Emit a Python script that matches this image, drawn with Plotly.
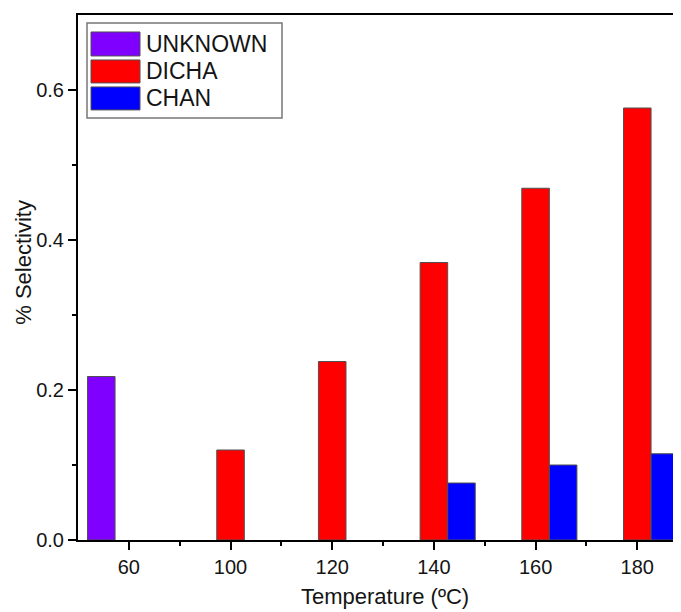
import plotly.graph_objects as go

# ---- data ----
categories = ["60", "100", "120", "140", "160", "180"]
series_names = ["UNKNOWN", "DICHA", "CHAN"]
unknown_vals = [0.218, None, None, None, None, None]
dicha_vals = [None, 0.12, 0.238, 0.37, 0.469, 0.576]
chan_vals = [None, None, None, 0.076, 0.10, 0.115]
series_colors = ["#7F00FF", "#FF0000", "#0000FF"]
y_tick_vals = [0.0, 0.2, 0.4, 0.6]
y_minor_vals = [0.1, 0.3, 0.5]

series_values = [unknown_vals, dicha_vals, chan_vals]
positions = list(range(len(categories)))

# the page body has an 8px margin; compensate so the picture lines up with the window
OFF = 8
W, H = 681 - OFF, 612 - OFF
PLOT_BOTTOM = 540.5  # window pixel of the x axis
ML, MR, MT = 78 - OFF, 0, 15 - OFF
MB = (H + OFF) - PLOT_BOTTOM
PW, PH = W - ML - MR, H - MT - MB

def px(x):  # window pixel -> paper
    return (x - OFF - ML) / PW

def py(y):
    return (H - MB - (y - OFF)) / PH

FONT = "Liberation Sans, Arial, sans-serif"
TXT = "#141414"

fig = go.Figure()
for name, vals, col in zip(series_names, series_values, series_colors):
    fig.add_trace(go.Bar(
        x=positions, y=vals, name=name,
        marker=dict(color=col, line=dict(color="#505050", width=1)),
        showlegend=False,
    ))

fig.update_layout(
    width=W, height=H,
    margin=dict(l=ML, r=MR, t=MT, b=MB, autoexpand=False),
    paper_bgcolor="white", plot_bgcolor="white",
    barmode="group", bargap=0.187, bargroupgap=0,
    font=dict(family=FONT, color=TXT, size=20),
)

fig.update_xaxes(
    range=[-0.5, 5.43],
    tickmode="array", tickvals=positions, ticktext=categories,
    ticks="outside", ticklen=8, tickwidth=2, tickcolor="black",
    minor=dict(tickmode="array",
               tickvals=[p + 0.5 for p in positions[:-1]],
               ticks="outside", ticklen=4, tickwidth=2, tickcolor="black"),
    showline=True, linecolor="black", linewidth=2, mirror=True,
    showgrid=False, zeroline=False,
    tickfont=dict(size=20, family=FONT, color=TXT),
)
fig.update_yaxes(
    range=[0, 0.7],
    tickmode="array", tickvals=y_tick_vals, tickformat=".1f",
    ticks="outside", ticklen=8, tickwidth=2, tickcolor="black",
    minor=dict(tickmode="array", tickvals=y_minor_vals,
               ticks="outside", ticklen=4, tickwidth=2, tickcolor="black"),
    showline=True, linecolor="black", linewidth=2,
    showgrid=False, zeroline=False,
    tickfont=dict(size=20, family=FONT, color=TXT),
)

# ---- axis titles ----
annotations = [
    dict(xref="paper", yref="paper", x=px(385), y=py(597), text="Temperature (ºC)",
         showarrow=False, xanchor="center", yanchor="middle",
         font=dict(size=22, family=FONT, color=TXT)),
    dict(xref="paper", yref="paper", x=px(24), y=py(263), text="% Selectivity",
         showarrow=False, xanchor="center", yanchor="middle", textangle=-90,
         font=dict(size=22, family=FONT, color=TXT)),
]

# ---- manual legend (large swatches as in the reference) ----
shapes = [dict(type="rect", xref="paper", yref="paper",
               x0=px(87), x1=px(282), y0=py(23), y1=py(118),
               line=dict(color="#777777", width=1.5), fillcolor="white", layer="above")]
rows = [(32, 56), (60, 83), (87, 110)]
for (y0, y1), name, col in zip(rows, series_names, series_colors):
    shapes.append(dict(type="rect", xref="paper", yref="paper",
                       x0=px(91), x1=px(140), y0=py(y0), y1=py(y1),
                       line=dict(color="#505050", width=1), fillcolor=col, layer="above"))
    annotations.append(dict(xref="paper", yref="paper", x=px(144), y=py((y0 + y1) / 2),
                            text=name, showarrow=False, xanchor="left", yanchor="middle",
                            font=dict(size=23, family=FONT, color=TXT)))
fig.update_layout(shapes=shapes, annotations=annotations)

fig.write_html("out.html")
